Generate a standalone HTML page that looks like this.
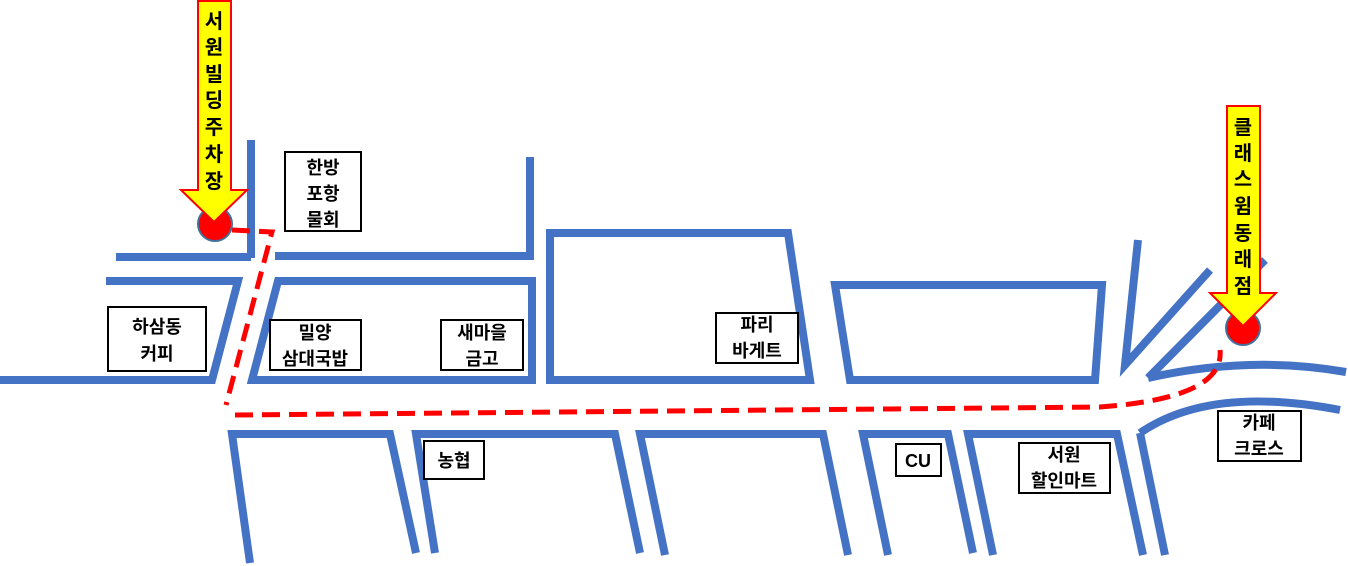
<!DOCTYPE html>
<html><head><meta charset="utf-8"><style>
html,body{margin:0;padding:0;background:#fff;}
svg{display:block;}
text{font-family:"Liberation Sans","Noto Sans CJK KR",sans-serif;font-weight:bold;fill:#000;}
</style></head><body>
<svg width="1348" height="566" viewBox="0 0 1348 566" xmlns="http://www.w3.org/2000/svg">
<g fill="none" stroke="#4472C4" stroke-width="8">
<polyline points="251,140 251,258"/>
<line x1="116" y1="257" x2="251" y2="257"/>
<polyline points="275,256 530,256 530,157"/>
<polyline points="106,281 238,281 212,380 0,380"/>
<polygon points="278,281 532,281 532,380 252,380"/>
<polygon points="550,233 788,233 810,380 550,380"/>
<polygon points="835,285 1102,285 1095,380 850,380"/>
<polyline points="1138,240 1125,365 1210,270"/>
<line x1="1148" y1="378" x2="1265" y2="260"/>
<path d="M1148,378 Q1250,355 1346,372"/>
<path d="M1140,433 Q1210,385 1340,410"/>
<polyline points="250,563 232,434 390,434 416,553"/>
<polyline points="435,553 416,434 615,434 640,553"/>
<polyline points="665,555 640,434 823,434 848,555"/>
<polyline points="888,555 863,434 948,434 973,553"/>
<polyline points="993,555 968,434 1117,434 1143,555"/>
<line x1="1140" y1="433" x2="1165" y2="555"/>
</g>
<g fill="none" stroke="#FF0000" stroke-width="5" stroke-dasharray="18,9">
<polyline points="232,230 272,232 226,405"/>
<path d="M235,415 L1100,407 Q1225,398 1220,350"/>
</g>
<circle cx="215" cy="224" r="17" fill="#FF0000" stroke="#41719C" stroke-width="2"/>
<circle cx="1243" cy="328" r="17" fill="#FF0000" stroke="#41719C" stroke-width="2"/>
<polygon points="198,1 231,1 231,190 247,190 214,222 181,190 198,190" fill="#FFFF00" stroke="#FF0000" stroke-width="2"/>
<polygon points="1227,106 1260,106 1260,293 1276,293 1243,326 1210,293 1227,293" fill="#FFFF00" stroke="#FF0000" stroke-width="2"/>
<g font-size="20" text-anchor="middle">
<text x="214" y="28">서</text><text x="214" y="54">원</text><text x="214" y="81">빌</text><text x="214" y="107">딩</text><text x="214" y="134">주</text><text x="214" y="161">차</text><text x="214" y="188">장</text>
<text x="1243" y="134">클</text><text x="1243" y="160">래</text><text x="1243" y="186">스</text><text x="1243" y="213">윔</text><text x="1243" y="240">동</text><text x="1243" y="266">래</text><text x="1243" y="293">점</text>
</g>
<g fill="#fff" stroke="#000" stroke-width="2">
<rect x="285" y="152" width="76" height="79"/>
<rect x="108" y="307" width="98" height="64"/>
<rect x="270" y="320" width="91" height="50"/>
<rect x="441" y="320" width="82" height="50"/>
<rect x="716" y="313" width="82" height="50"/>
<rect x="424" y="441" width="60" height="38"/>
<rect x="896" y="444" width="45" height="32"/>
<rect x="1019" y="443" width="91" height="50"/>
<rect x="1218" y="411" width="83" height="50"/>
</g>
<g font-size="18" text-anchor="middle">
<text x="323" y="174">한방</text><text x="323" y="200">포항</text><text x="323" y="226">물회</text>
<text x="157" y="333">하삼동</text><text x="157" y="360">커피</text>
<text x="315" y="339">밀양</text><text x="315" y="365">삼대국밥</text>
<text x="482" y="339">새마을</text><text x="482" y="365">금고</text>
<text x="757" y="331">파리</text><text x="757" y="357">바게트</text>
<text x="454" y="467">농협</text>
<text x="918" y="467">CU</text>
<text x="1064" y="461">서원</text><text x="1064" y="487">할인마트</text>
<text x="1259" y="429">카페</text><text x="1259" y="455">크로스</text>
</g>
</svg>
</body></html>
